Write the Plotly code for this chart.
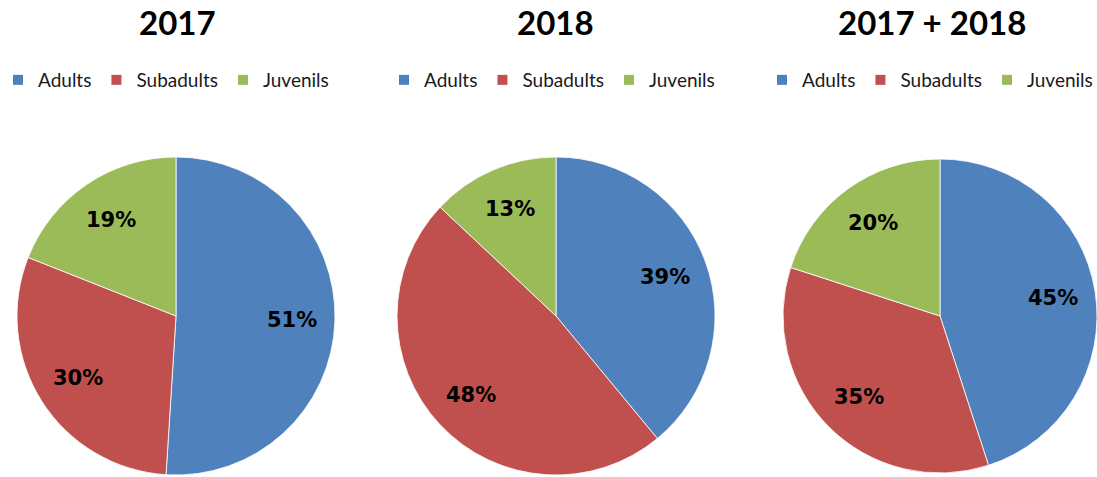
import math
import plotly.graph_objects as go

# Age-class composition per sampling year (percent)
groups = ["Adults", "Subadults", "Juvenils"]
titles = ["2017", "2018", "2017 + 2018"]
share_2017 = [51, 30, 19]
share_2018 = [39, 48, 13]
share_total = [45, 35, 20]
series = [share_2017, share_2018, share_total]

colors = ["#4F81BD", "#C0504D", "#9BBB59"]

W, H = 1097, 477
# pie centres and radii in pixels
centres = [(176, 316, 159), (556, 316, 159), (940, 316, 157)]
legend_x = [166, 552, 930]
title_x = [177, 556, 932]
LABEL_FRAC = 0.73

fig = go.Figure()
annotations = []

for i, (vals, (cx, cy, r)) in enumerate(zip(series, centres)):
    dom_x = [(cx - r) / W, min((cx + r) / W, 1.0)]
    dom_y = [1 - (cy + r) / H, 1 - (cy - r) / H]
    leg = "legend" if i == 0 else f"legend{i + 1}"
    fig.add_trace(go.Pie(
        labels=groups,
        values=vals,
        sort=False,
        direction="clockwise",
        rotation=0,
        textinfo="none",
        hoverinfo="label+percent",
        marker=dict(colors=colors, line=dict(color="white", width=0.8)),
        domain=dict(x=dom_x, y=dom_y),
        showlegend=False,
    ))

    # one legend per pie: empty square-marker entries, one per age class
    for g, c in zip(groups, colors):
        fig.add_trace(go.Scatter(
            x=[None], y=[None], mode="markers", name=g,
            marker=dict(symbol="square", size=10, color=c),
            legend=leg, showlegend=True, hoverinfo="skip",
        ))

    # percentage labels placed along each slice's mid-angle
    total = sum(vals)
    cum = 0
    for v in vals:
        mid = (cum + v / 2) / total * 2 * math.pi
        cum += v
        d = LABEL_FRAC * r
        px = cx + d * math.sin(mid)
        py = cy - d * math.cos(mid)
        annotations.append(dict(
            x=px / W, y=1 - py / H, xref="paper", yref="paper",
            text=f"{v}%", showarrow=False,
            font=dict(family="DejaVu Sans", size=21, color="black", weight="bold"),
            xanchor="center", yanchor="middle",
        ))

    annotations.append(dict(
        x=title_x[i] / W, y=1 - 22 / H, xref="paper", yref="paper",
        text=f"<b>{titles[i]}</b>", showarrow=False,
        font=dict(family="Lato", size=33, color="black"),
        xanchor="center", yanchor="middle",
    ))

legend_style = dict(
    orientation="h",
    xanchor="center",
    yanchor="middle",
    y=1 - 80 / H,
    font=dict(family="Lato", size=19, color="#1a1a1a"),
    itemwidth=30,
    bgcolor="rgba(0,0,0,0)",
    traceorder="normal",
)

fig.update_layout(
    width=W,
    height=H,
    margin=dict(l=0, r=0, t=0, b=0, autoexpand=False),
    paper_bgcolor="white",
    plot_bgcolor="white",
    annotations=annotations,
    xaxis=dict(visible=False),
    yaxis=dict(visible=False),
    legend=dict(x=legend_x[0] / W, **legend_style),
    legend2=dict(x=legend_x[1] / W, **legend_style),
    legend3=dict(x=legend_x[2] / W, **legend_style),
)

fig.write_html("out.html")
